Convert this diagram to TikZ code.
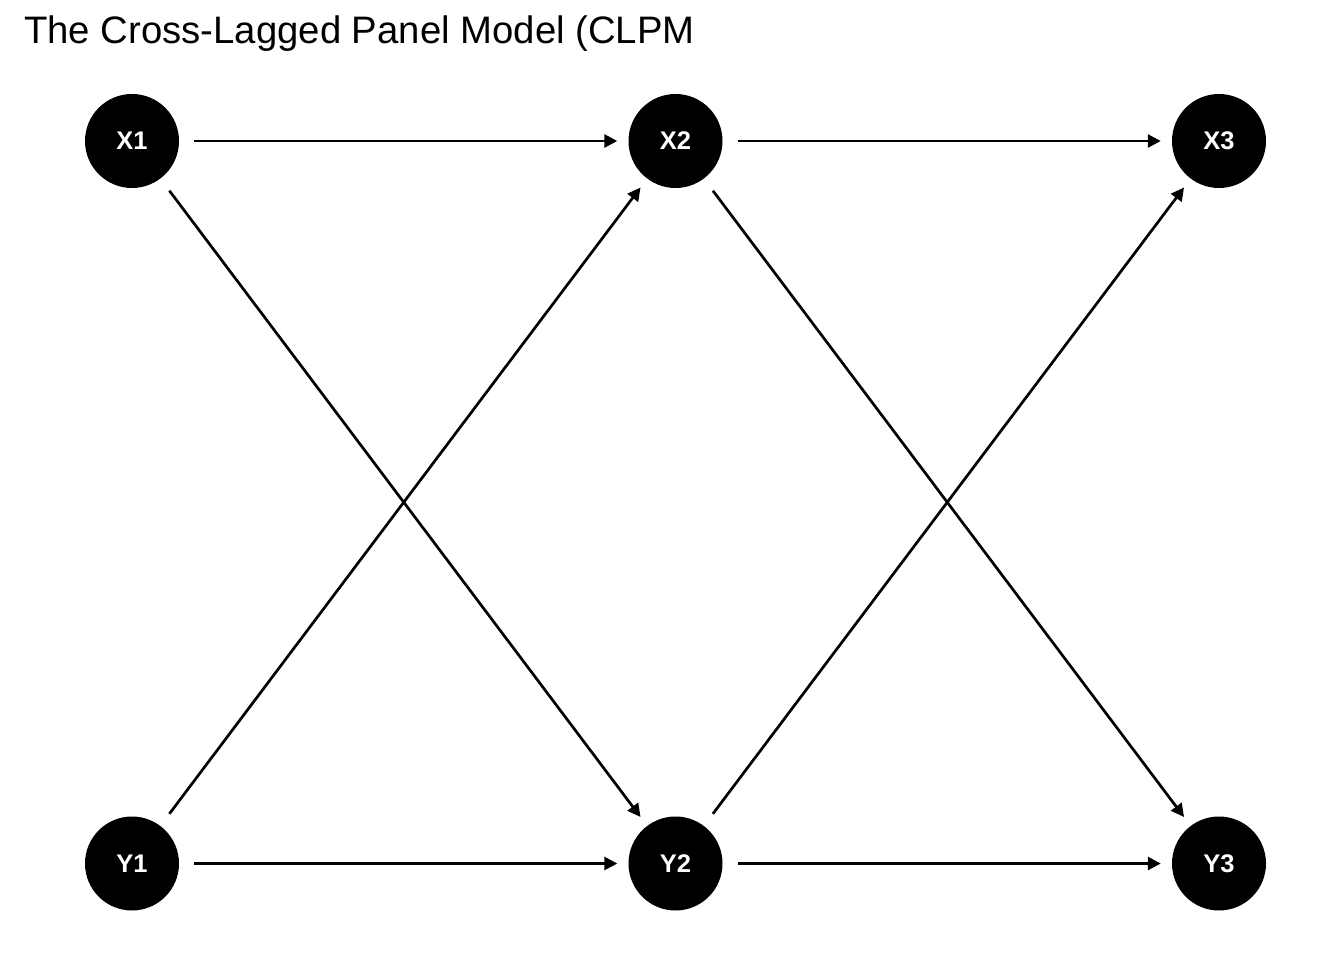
\documentclass[tikz,border=0pt]{standalone}
\usepackage{fontspec}
\setmainfont{Liberation Sans}
\usetikzlibrary{arrows.meta,positioning}

\begin{document}
\begin{tikzpicture}[x=1pt,y=-1pt,
    var/.style={circle,fill=black,minimum size=94pt,inner sep=0pt,
      text=white,font=\fontsize{25.5}{30}\selectfont\bfseries},
    path/.style={-{Triangle[length=13pt,width=13pt]},line width=2.7pt,
      shorten <=15pt,shorten >=11pt}]
  \useasboundingbox (0,0) rectangle (1344,960);
  \node[anchor=base west,inner sep=0pt,font=\fontsize{38.3}{45}\selectfont] (title) at (24,44)
    {The Cross-Lagged Panel Model (CLPM};
  \foreach \i/\x in {1/132, 2/675.5, 3/1219}
  {
    \node[var] (X\i) at (\x,141) {X\i};
    \node[var] (Y\i) at (\x,863.5) {Y\i};
  }
  \foreach \a/\b in {1/2, 2/3}
  {
    \draw[path] (X\a) -- (X\b);
    \draw[path] (Y\a) -- (Y\b);
    \draw[path] (X\a) -- (Y\b);
    \draw[path] (Y\a) -- (X\b);
  }
\end{tikzpicture}
\end{document}
